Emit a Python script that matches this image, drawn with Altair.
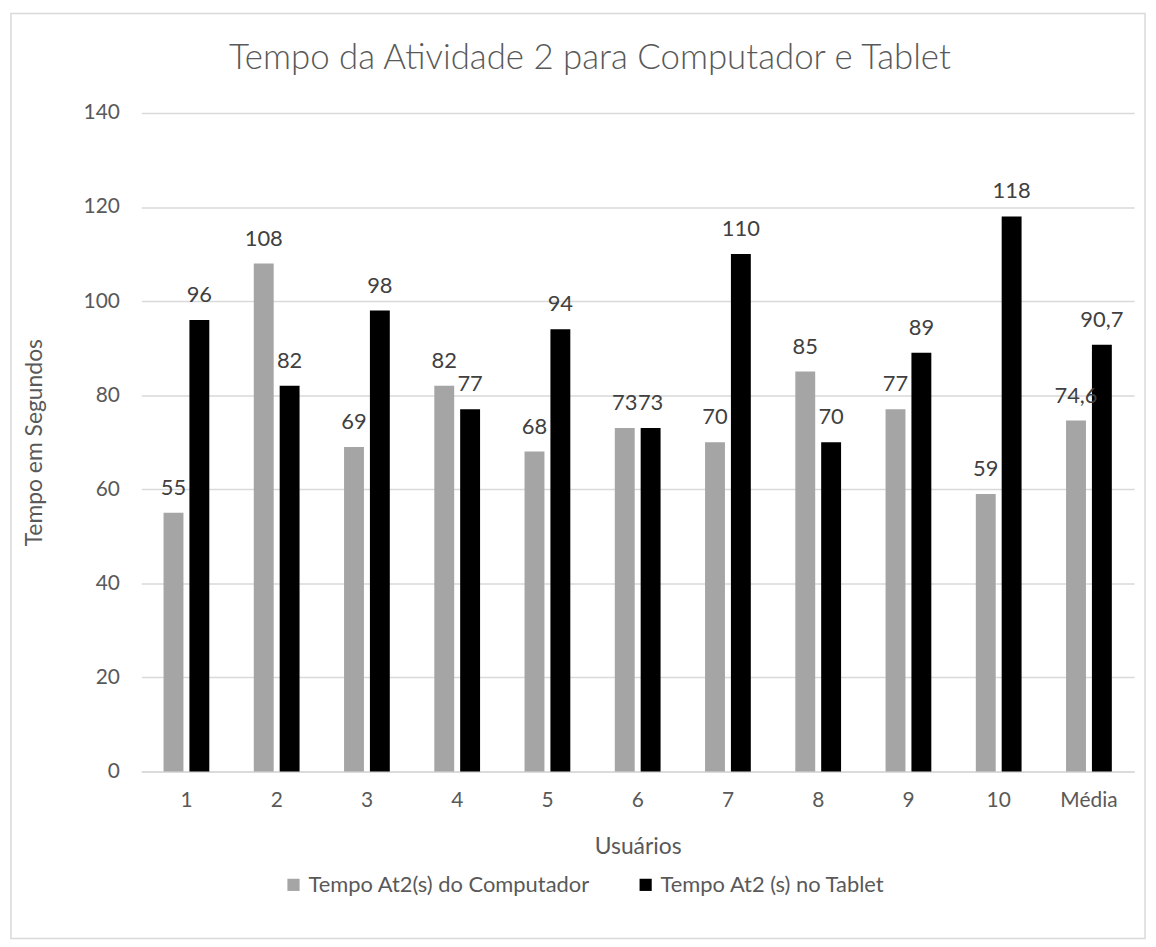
import altair as alt
import pandas as pd

usuarios = ["1", "2", "3", "4", "5", "6", "7", "8", "9", "10", "Média"]
computador = [55, 108, 69, 82, 68, 73, 70, 85, 77, 59, 74.6]
tablet = [96, 82, 98, 77, 94, 73, 110, 70, 89, 118, 90.7]
series = ["Tempo At2(s) do Computador", "Tempo At2 (s) no Tablet"]
colors = ["#A5A5A5", "#000000"]

rows = []
for u, c, t in zip(usuarios, computador, tablet):
    rows.append({"usuario": u, "serie": series[0], "valor": c})
    rows.append({"usuario": u, "serie": series[1], "valor": t})
df = pd.DataFrame(rows)
df["rotulo"] = df["valor"].map(lambda v: (f"{v:g}").replace(".", ","))

FONT = "Lato"
TXT = "#595959"

x_enc = alt.X("usuario:N", sort=usuarios,
              scale=alt.Scale(paddingInner=0, paddingOuter=0),
              axis=alt.Axis(title="Usuários", labelAngle=0, labelFontSize=21,
                            labelColor=TXT, titleColor=TXT, titleFontSize=23,
                            titleFontWeight="normal", labelPadding=18,
                            titlePadding=25, ticks=False, domainColor="#D9D9D9",
                            domainWidth=1.5, grid=False, labelFont=FONT, titleFont=FONT))
xoff = alt.XOffset("serie:N", sort=series,
                   scale=alt.Scale(paddingInner=0.231, paddingOuter=0.86))
y_enc = alt.Y("valor:Q",
              scale=alt.Scale(domain=[0, 140]),
              axis=alt.Axis(title="Tempo em Segundos", values=list(range(0, 141, 20)),
                            labelFontSize=21, labelColor=TXT, titleColor=TXT,
                            titleFontSize=23, titleFontWeight="normal",
                            domain=False, ticks=False, labelPadding=22,
                            gridColor="#D9D9D9", gridWidth=1.5,
                            titleX=-107, titleY=331, titleAngle=-90,
                            titleBaseline="middle", titleAlign="center",
                            labelFont=FONT, titleFont=FONT))

bars = alt.Chart(df).mark_bar(width=20).encode(
    x=x_enc, xOffset=xoff, y=y_enc,
    color=alt.Color("serie:N", sort=series,
                    scale=alt.Scale(domain=series, range=colors),
                    legend=alt.Legend(title=None, orient="none", legendX=142, legendY=765,
                                      direction="horizontal", symbolType="square",
                                      symbolSize=150, symbolStrokeWidth=0,
                                      labelFontSize=22, labelColor=TXT, labelFont=FONT,
                                      columnPadding=44, labelLimit=400))
)

labels = alt.Chart(df).mark_text(baseline="alphabetic", dy=-18, fontSize=22,
                                 color="#404040", font=FONT).encode(
    x=alt.X("usuario:N", sort=usuarios), xOffset=alt.XOffset("serie:N", sort=series),
    y="valor:Q", text="rotulo:N"
)

frame = alt.Chart(pd.DataFrame({"a": [0]})).mark_rect(
    fill="transparent", stroke="#D9D9D9", strokeWidth=1.5).encode(
    x=alt.value(-131), x2=alt.value(1009), y=alt.value(-100), y2=alt.value(830)
)

chart = alt.layer(frame, bars, labels).properties(
    width=998, height=662, background="white",
    title=alt.TitleParams("Tempo da Atividade 2 para Computador e Tablet",
                          fontSize=35, font=FONT, fontWeight=300, color=TXT,
                          anchor="middle", frame="bounds", offset=-64, dx=12),
    padding={"left": 2, "top": 2, "right": 2, "bottom": 2}
).configure_view(stroke=None, strokeWidth=0)

chart.save("out.html", embed_options={"renderer": "svg", "actions": False})
